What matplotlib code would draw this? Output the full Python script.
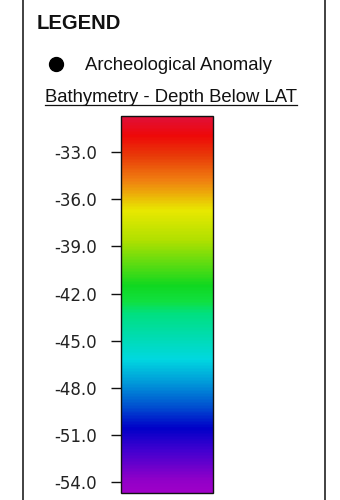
import numpy as np
import matplotlib
matplotlib.use("Agg")
import matplotlib.pyplot as plt
from matplotlib.colors import LinearSegmentedColormap, Normalize
from matplotlib.cm import ScalarMappable
from matplotlib.lines import Line2D

plt.rcParams['axes.unicode_minus'] = False

# legend texts
title = "LEGEND"
point_label = "Archeological Anomaly"
bar_label = "Bathymetry - Depth Below LAT"

# depth scale (m below LAT)
depth_min = -54.7
depth_max = -30.7
tick_values = [-33.0, -36.0, -39.0, -42.0, -45.0, -48.0, -51.0, -54.0]

# colour stops
stop_values = [-54.7, -53.9, -52.0, -50.6, -49.2, -47.9, -46.2, -43.3, -42.5,
               -41.5, -38.6, -36.7, -34.8, -33.2, -31.9, -30.7]
stop_colors = ['#a000c8', '#9000c8', '#4000d0', '#0000c8', '#0050d0', '#0090d8',
               '#00d8e0', '#00e080', '#10e040', '#10d820', '#b0e000', '#e8e800',
               '#f08010', '#e83a08', '#ee0808', '#e0103a']

W, H = 340, 500
fig = plt.figure(figsize=(W / 100, H / 100), dpi=100)
fig.patch.set_facecolor('white')

# outer frame (left / right sides only visible)
for x in [23, 325]:
    fig.add_artist(Line2D([x / W, x / W], [0, 1], color='#333333', lw=1.3,
                          transform=fig.transFigure))

fig.text(37 / W, 1 - 29 / H, title, fontsize=14.6, fontweight='bold',
         family='Liberation Sans', color='#111111', va='baseline')

fig.add_artist(Line2D([56 / W], [1 - 63.5 / H], marker='o', markersize=10,
                      color='black', transform=fig.transFigure))
fig.text(85 / W, 1 - 69.5 / H, point_label, fontsize=13.3,
         family='Liberation Sans', color='#111111', va='baseline')

t = fig.text(45 / W, 1 - 102 / H, bar_label, fontsize=13.3,
             family='Liberation Sans', color='#111111', va='baseline')
fig.canvas.draw()
bb = t.get_window_extent()
fig.add_artist(Line2D([bb.x0 / W, bb.x1 / W], [1 - 105 / H, 1 - 105 / H],
                      color='#111111', lw=0.9, transform=fig.transFigure))

# colour bar
pos = [(v - depth_min) / (depth_max - depth_min) for v in stop_values]
cmap = LinearSegmentedColormap.from_list('bathy', list(zip(pos, stop_colors)))
norm = Normalize(vmin=depth_min, vmax=depth_max)

cax = fig.add_axes([121 / W, 7 / H, 92 / W, 377 / H])
cb = fig.colorbar(ScalarMappable(norm=norm, cmap=cmap), cax=cax, ticks=tick_values)
cb.outline.set_linewidth(1.0)
cb.outline.set_edgecolor('#111111')
cax.yaxis.set_ticks_position('left')
cax.yaxis.set_label_position('left')
cax.set_yticklabels(['%.1f' % v for v in tick_values])
cax.tick_params(axis='y', length=7.2, width=1.0, pad=10, labelsize=12,
                labelcolor='#222222', color='#111111')

fig.savefig('out.png', dpi=100)
